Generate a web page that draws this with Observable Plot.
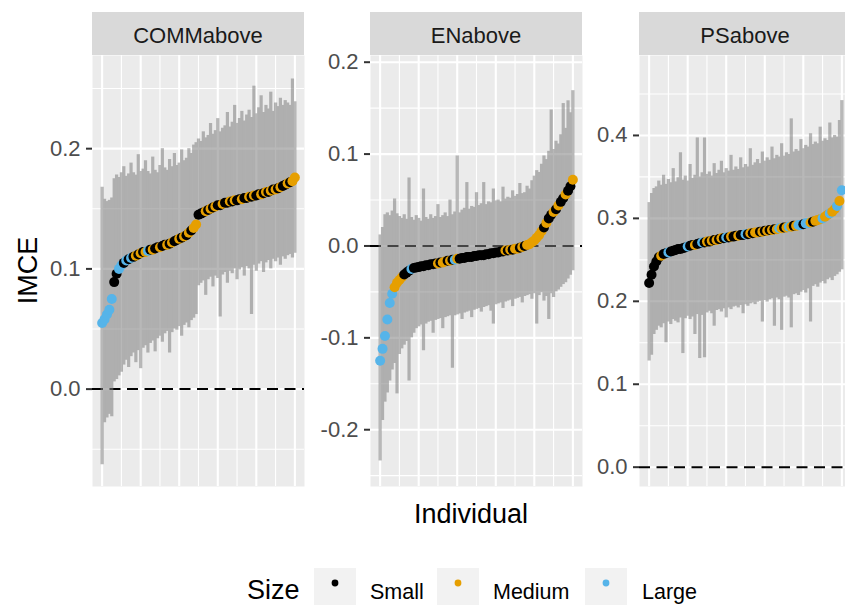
<!DOCTYPE html>
<html>
<head>
<meta charset="utf-8">
<script src="https://cdn.jsdelivr.net/npm/d3@7"></script>
<script src="https://cdn.jsdelivr.net/npm/@observablehq/plot@0.6"></script>
<style>
  body { margin: 0; background: #fff; }
  #chart { position: relative; width: 845px; height: 605px; overflow: hidden; background: #fff;
           font-family: "Liberation Sans", Arial, sans-serif; }
  #chart > svg, #chart > div { position: absolute; }
</style>
</head>
<body>
<div id="chart"></div>
<script>
// ---------------- DATA ----------------
const panelNames = ["COMMabove", "ENabove", "PSabove"];
const sizeLevels = ["Small", "Medium", "Large"];
const sizeCodes  = ["S", "M", "L"];
const sizeColors = ["#000000", "#E69F00", "#56B4E9"];

// COMMabove
const commEst = [0.055,0.058,0.062,0.066,0.075,0.089,0.096,0.100,0.103,0.105,
  0.107,0.108,0.109,0.110,0.111,0.112,0.113,0.114,0.114,0.115,
  0.116,0.116,0.117,0.118,0.118,0.119,0.120,0.120,0.121,0.122,
  0.123,0.124,0.125,0.126,0.127,0.128,0.130,0.132,0.134,0.137,
  0.145,0.146,0.147,0.148,0.149,0.150,0.151,0.152,0.153,0.153,
  0.154,0.155,0.155,0.156,0.156,0.157,0.157,0.158,0.158,0.159,
  0.159,0.160,0.160,0.161,0.161,0.162,0.162,0.163,0.164,0.164,
  0.165,0.166,0.166,0.167,0.168,0.169,0.170,0.171,0.172,0.173,
  0.176];
const commHi = [0.168,0.158,0.156,0.157,0.159,0.175,0.178,0.176,0.180,0.185,
  0.177,0.179,0.188,0.180,0.178,0.195,0.181,0.183,0.190,0.181,
  0.179,0.193,0.182,0.180,0.186,0.200,0.184,0.182,0.191,0.185,
  0.196,0.186,0.188,0.199,0.190,0.192,0.200,0.196,0.203,0.205,
  0.208,0.206,0.214,0.209,0.211,0.221,0.212,0.215,0.225,0.214,
  0.217,0.219,0.230,0.218,0.222,0.236,0.221,0.225,0.231,0.223,
  0.228,0.232,0.226,0.252,0.229,0.234,0.244,0.230,0.236,0.233,
  0.247,0.231,0.238,0.235,0.242,0.236,0.240,0.238,0.236,0.258,
  0.239];
const commLo = [-0.063,-0.028,-0.024,-0.021,-0.023,0.006,0.008,0.011,0.014,0.020,
  0.024,0.018,0.027,0.030,0.022,0.032,0.017,0.034,0.036,0.030,
  0.038,0.040,0.031,0.042,0.044,0.039,0.046,0.048,0.030,0.047,
  0.050,0.049,0.052,0.044,0.053,0.055,0.051,0.057,0.059,0.062,
  0.086,0.088,0.090,0.078,0.091,0.093,0.085,0.094,0.092,0.060,
  0.095,0.097,0.088,0.098,0.096,0.100,0.091,0.099,0.101,0.094,
  0.102,0.100,0.062,0.103,0.098,0.104,0.106,0.097,0.105,0.107,
  0.100,0.108,0.106,0.109,0.103,0.110,0.108,0.111,0.112,0.109,
  0.113];
const commSize = "LLLLLSSLLS" + "LSLSMSMSML" + "SMSSMSSMSM" + "SSMSMSMSMM" +
                 "SSSMSMSMSS" + "MSSMSMSSMS" + "SMSMSSMSMS" + "MSMSMSSMSM" + "M";

// ENabove
const enEst = [-0.125,-0.112,-0.098,-0.080,-0.062,-0.052,-0.045,-0.040,-0.037,-0.034,
  -0.031,-0.029,-0.027,-0.025,-0.024,-0.0235,-0.023,-0.022,-0.022,-0.021,
  -0.021,-0.020,-0.020,-0.019,-0.019,-0.018,-0.018,-0.017,-0.016,-0.016,
  -0.015,-0.015,-0.014,-0.014,-0.013,-0.013,-0.012,-0.012,-0.012,-0.011,
  -0.011,-0.010,-0.010,-0.010,-0.009,-0.009,-0.008,-0.008,-0.007,-0.007,
  -0.006,-0.006,-0.005,-0.005,-0.004,-0.004,-0.003,-0.003,-0.002,-0.001,
  0.000,0.001,0.002,0.004,0.006,0.009,0.012,0.016,0.020,0.025,
  0.030,0.034,0.037,0.040,0.044,0.048,0.052,0.056,0.060,0.065,
  0.072];
const enHi = [0.012,0.020,0.034,0.036,0.033,0.038,0.051,0.035,0.032,0.030,
  0.034,0.029,0.074,0.031,0.028,0.033,0.030,0.027,0.062,0.031,
  0.029,0.034,0.030,0.032,0.045,0.031,0.033,0.036,0.032,0.050,
  0.034,0.037,0.098,0.036,0.039,0.041,0.069,0.040,0.043,0.042,
  0.058,0.044,0.046,0.069,0.045,0.048,0.047,0.062,0.049,0.050,
  0.048,0.064,0.051,0.053,0.052,0.060,0.054,0.056,0.068,0.057,
  0.058,0.065,0.062,0.071,0.076,0.082,0.080,0.089,0.098,0.094,
  0.103,0.148,0.105,0.114,0.111,0.121,0.155,0.128,0.158,0.145,
  0.169];
const enLo = [-0.234,-0.190,-0.170,-0.160,-0.147,-0.135,-0.128,-0.161,-0.118,-0.112,
  -0.108,-0.104,-0.147,-0.100,-0.095,-0.090,-0.088,-0.086,-0.114,-0.085,
  -0.083,-0.082,-0.095,-0.081,-0.080,-0.079,-0.090,-0.078,-0.077,-0.076,
  -0.133,-0.076,-0.075,-0.074,-0.080,-0.073,-0.072,-0.071,-0.078,-0.070,
  -0.069,-0.068,-0.072,-0.067,-0.066,-0.065,-0.071,-0.085,-0.064,-0.063,
  -0.062,-0.068,-0.061,-0.060,-0.059,-0.066,-0.058,-0.057,-0.056,-0.062,
  -0.055,-0.054,-0.053,-0.058,-0.052,-0.085,-0.054,-0.051,-0.060,-0.055,
  -0.080,-0.052,-0.056,-0.050,-0.048,-0.045,-0.042,-0.040,-0.036,-0.032,
  -0.027];
const enSize = "LLLLLLMMMM" + "SSSLSSSSSS" + "SSSSMSMMSM" + "SLMSSSSSSS" +
               "SSSSSSSSSS" + "SSMSMSMMSM" + "SMMMMMMMSM" + "SSMSMSSMSSM";

// PSabove
const psEst = [0.222,0.232,0.242,0.248,0.253,0.255,0.257,0.258,0.259,0.260,
  0.261,0.262,0.263,0.263,0.264,0.265,0.266,0.267,0.268,0.268,
  0.269,0.270,0.271,0.271,0.272,0.272,0.273,0.274,0.274,0.275,
  0.276,0.276,0.277,0.277,0.278,0.278,0.279,0.279,0.280,0.280,
  0.281,0.281,0.282,0.282,0.283,0.283,0.284,0.284,0.285,0.285,
  0.286,0.286,0.287,0.287,0.288,0.288,0.289,0.289,0.290,0.290,
  0.291,0.291,0.292,0.292,0.293,0.294,0.294,0.295,0.296,0.297,
  0.298,0.299,0.300,0.302,0.304,0.306,0.308,0.311,0.315,0.321,
  0.334];
const psHi = [0.319,0.330,0.336,0.338,0.345,0.340,0.352,0.341,0.347,0.343,
  0.360,0.344,0.349,0.379,0.346,0.351,0.345,0.365,0.348,0.352,
  0.397,0.350,0.355,0.397,0.353,0.356,0.351,0.366,0.354,0.358,
  0.369,0.355,0.360,0.357,0.376,0.358,0.362,0.359,0.373,0.361,
  0.365,0.362,0.384,0.364,0.367,0.371,0.366,0.380,0.369,0.373,
  0.370,0.386,0.372,0.376,0.374,0.390,0.375,0.379,0.377,0.420,
  0.380,0.383,0.381,0.395,0.384,0.388,0.386,0.402,0.389,0.392,
  0.390,0.410,0.393,0.396,0.394,0.415,0.397,0.400,0.398,0.418,
  0.442];
const psLo = [0.128,0.135,0.160,0.165,0.170,0.168,0.173,0.150,0.175,0.172,
  0.178,0.176,0.174,0.180,0.137,0.179,0.182,0.178,0.181,0.160,
  0.184,0.131,0.183,0.132,0.186,0.188,0.185,0.170,0.189,0.190,
  0.187,0.191,0.180,0.192,0.190,0.193,0.194,0.192,0.195,0.185,
  0.196,0.194,0.197,0.198,0.196,0.199,0.200,0.175,0.201,0.199,
  0.202,0.203,0.170,0.204,0.202,0.165,0.205,0.206,0.204,0.168,
  0.208,0.209,0.207,0.211,0.213,0.210,0.215,0.175,0.218,0.220,
  0.217,0.222,0.224,0.221,0.226,0.228,0.225,0.230,0.232,0.235,
  0.238];
const psSize = "SSSSSMSSLS" + "SSSSSSLSSM" + "SSLSMSMSMS" + "MSLSMSSMSS" +
               "LSMSMMSMSM" + "SMSMLMSMLM" + "SMLLSLLMSM" + "MMLMMLMMLML";

// Axis breaks
const commTicks = [0, 0.1, 0.2],            commMinor = [-0.05, 0.05, 0.15, 0.25];
const enTicks   = [-0.2, -0.1, 0, 0.1, 0.2], enMinor   = [-0.25, -0.15, -0.05, 0.05, 0.15];
const psTicks   = [0, 0.1, 0.2, 0.3, 0.4],   psMinor   = [0.05, 0.15, 0.25, 0.35, 0.45];
const xMajor = [0, 16, 32, 48, 64, 80];
const xMinor = [8, 24, 40, 56, 72];

// ---------------- LAYOUT ----------------
const PW = 212;           // panel width
const panels = [
  {name: panelNames[0], est: commEst, lo: commLo, hi: commHi, size: commSize,
   domain: [-0.081, 0.2775], ticks: commTicks, minor: commMinor, left: 92},
  {name: panelNames[1], est: enEst, lo: enLo, hi: enHi, size: enSize,
   domain: [-0.2618, 0.2073], ticks: enTicks, minor: enMinor, left: 370},
  {name: panelNames[2], est: psEst, lo: psLo, hi: psHi, size: psSize,
   domain: [-0.0233, 0.4964], ticks: psTicks, minor: psMinor, left: 639}
];

const chart = document.getElementById("chart");
const FONT = '"Liberation Sans", Arial, sans-serif';

// overlay for strips, titles and legend
const W = 845, H = 605;
const svg = d3.select(chart).append("svg").attr("width", W).attr("height", H)
  .style("left", "0px").style("top", "0px").style("font-family", FONT);

panels.forEach(p => {
  svg.append("rect").attr("x", p.left).attr("y", 12).attr("width", PW).attr("height", 43).attr("fill", "#D9D9D9");
  svg.append("text").attr("x", p.left + PW / 2).attr("y", 43).attr("text-anchor", "middle")
    .attr("font-size", 22).attr("fill", "#1A1A1A").text(p.name);
});

svg.append("text").attr("transform", "translate(37,270.5) rotate(-90)").attr("text-anchor", "middle")
  .attr("font-size", 27).attr("fill", "#000").text("IMCE");
svg.append("text").attr("x", 471).attr("y", 523).attr("text-anchor", "middle")
  .attr("font-size", 27).attr("fill", "#000").text("Individual");

// legend
svg.append("text").attr("x", 247).attr("y", 599).attr("font-size", 27).attr("fill", "#000").text("Size");
const keyX = [314, 437, 585];
const labelX = [370, 493, 642];
sizeLevels.forEach((lab, k) => {
  svg.append("rect").attr("x", keyX[k]).attr("y", 568).attr("width", 42).attr("height", 42).attr("fill", "#F2F2F2");
  svg.append("circle").attr("cx", keyX[k] + 21).attr("cy", 583).attr("r", 3.4).attr("fill", sizeColors[k]);
  svg.append("text").attr("x", labelX[k]).attr("y", 599).attr("font-size", 21.5).attr("fill", "#000").text(lab);
});

// panels
panels.forEach((p, idx) => {
  const ml = idx === 0 ? 92 : 60;
  const data = p.est.map((v, i) => ({
    i, est: v, lo: p.lo[i], hi: p.hi[i],
    size: sizeLevels[sizeCodes.indexOf(p.size[i])]
  }));
  const plot = Plot.plot({
    width: ml + PW, height: 490,
    marginLeft: ml, marginRight: 0, marginTop: 55, marginBottom: 4,
    style: {fontFamily: FONT, background: "transparent", overflow: "visible"},
    x: {domain: [-4, 84], axis: null},
    y: {domain: p.domain, label: null},
    color: {domain: sizeLevels, range: sizeColors},
    marks: [
      Plot.frame({fill: "#EBEBEB", stroke: "none"}),
      Plot.gridY(p.minor, {stroke: "#fff", strokeOpacity: 1, strokeWidth: 1.1}),
      Plot.gridY(p.ticks, {stroke: "#fff", strokeOpacity: 1, strokeWidth: 2.1}),
      Plot.gridX(xMinor, {stroke: "#fff", strokeOpacity: 1, strokeWidth: 1.1}),
      Plot.gridX(xMajor, {stroke: "#fff", strokeOpacity: 1, strokeWidth: 2.1}),
      Plot.ruleY([0], {stroke: "#000", strokeWidth: 2, strokeDasharray: "11,6.5"}),
      Plot.ruleX(data, {x: "i", y1: "lo", y2: "hi", stroke: "#7F7F7F", strokeWidth: 3.2}),
      Plot.dot(data, {x: "i", y: "est", fill: "size", r: 5}),
      Plot.axisY(p.ticks, {tickSize: 6, tickPadding: 6, tickFormat: d => d.toFixed(1),
        fontSize: 22, stroke: "#333333", strokeWidth: 2, fill: "#4D4D4D", label: null})
    ]
  });
  // translucent band: group opacity so overlapping bars do not darken each other
  const ruleGroups = Array.from(plot.querySelectorAll('g[aria-label="rule"]'));
  const bars = ruleGroups.find(g => g.children.length > 1);
  if (bars) bars.setAttribute("opacity", 0.55);
  plot.style.position = "absolute";
  plot.style.left = (p.left - ml) + "px";
  plot.style.top = "0px";
  plot.style.maxWidth = "none";
  chart.appendChild(plot);
});
</script>
</body>
</html>
